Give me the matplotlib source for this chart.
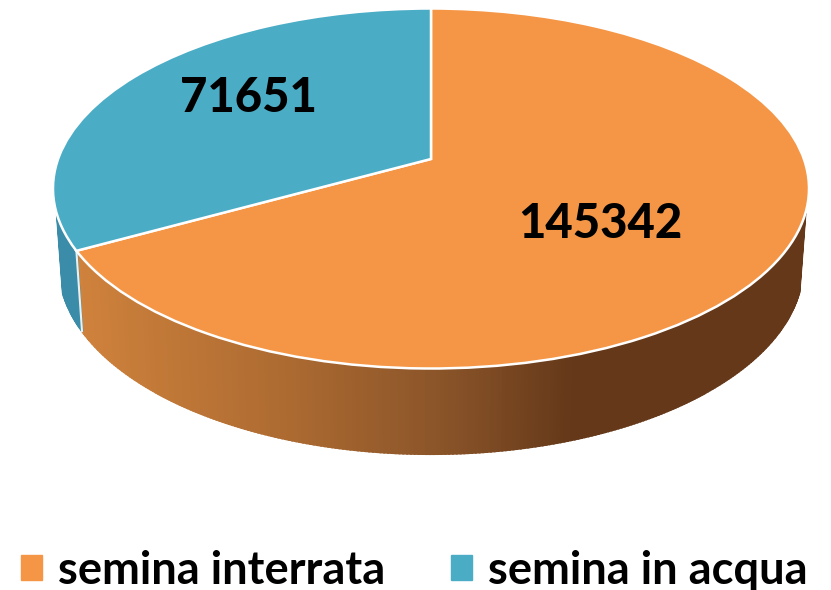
import numpy as np
import matplotlib
matplotlib.use("Agg")
import matplotlib.pyplot as plt
from matplotlib.patches import Patch
from matplotlib.colors import LinearSegmentedColormap
from matplotlib.transforms import Transform

# dati
categorie = ["semina interrata", "semina in acqua"]
valori = [145342, 71651]
colori = ["#f59646", "#4bacc6"]

plt.rcParams['font.family'] = ['Lato', 'DejaVu Sans']

P = 0.164  # prospettiva, sposta il centro della torta verso l'alto


def prospettiva(xy):
    x, y = xy[:, 0], xy[:, 1]
    w = 1 + P * y
    return np.column_stack((x * np.sqrt(1 - P ** 2) / w, (y + P) / w))


class Disco(Transform):
    # cerchio unitario -> ellisse superiore in pixel
    input_dims = output_dims = 2

    def transform_non_affine(self, xy):
        q = prospettiva(np.asarray(xy))
        return np.column_stack((431 + 378 * q[:, 0], 188.5 - 180 * q[:, 1]))


fig = plt.figure(figsize=(8.31, 5.90), dpi=100)
ax = fig.add_axes([0, 0, 1, 1])

spicchi, _ = ax.pie(valori, colors=colori, startangle=90, counterclock=False,
                    wedgeprops=dict(edgecolor="white", linewidth=1.8, zorder=5))
ax.set_aspect("auto")
ax.set_xlim(0, 831)
ax.set_ylim(590, 0)
ax.axis("off")

sfum_arancio = LinearSegmentedColormap.from_list(
    "ar", [(0, "#cf823c"), (0.29, "#ac6a31"), (0.5, "#8a5429"), (0.68, "#643819"), (1, "#643819")])
sfum_blu = LinearSegmentedColormap.from_list("bl", ["#3a8ca8", "#3d8fab"])
mappe = [sfum_arancio, sfum_blu]

# parete laterale, a strisce verticali sfumate
for sp, mappa in zip(spicchi, mappe):
    ang = np.radians(np.arange(sp.theta1, sp.theta2 + 0.25, 0.5))
    q = prospettiva(np.column_stack((np.cos(ang), np.sin(ang))))
    q = q[q[:, 1] < -0.136]
    x_su, y_su = 431 + 378 * q[:, 0], 188.5 - 180 * q[:, 1]
    x_giu, y_giu = 431 + 372 * q[:, 0], 266 - 188 * q[:, 1]
    for i in range(len(q) - 1):
        colore = mappa((x_su[i] - 76) / (809 - 76))
        ax.fill([x_su[i], x_su[i + 1], x_giu[i + 1], x_giu[i]],
                [y_su[i], y_su[i + 1], y_giu[i + 1], y_giu[i]],
                facecolor=colore, edgecolor=colore, lw=1.5, zorder=2)

# linea bianca fra le due pareti
a = np.radians(spicchi[0].theta1)
q = prospettiva(np.array([[np.cos(a), np.sin(a)]]))[0]
ax.plot([431 + 378 * q[0], 431 + 372 * q[0]], [188.5 - 180 * q[1], 266 - 188 * q[1]],
        color="#e8f0f2", lw=1.5, zorder=3)

# spicchi superiori
disco = Disco()
for sp in spicchi:
    sp.set_transform(disco + ax.transData)

ax.text(600, 224, str(valori[0]), fontsize=34, fontweight="black", ha="center", va="center", zorder=6)
ax.text(248, 98, str(valori[1]), fontsize=34, fontweight="black", ha="center", va="center", zorder=6)

maniglie = [Patch(color=c) for c in colori]
ax.legend(maniglie, categorie, ncol=2, frameon=False, loc="center",
          bbox_to_anchor=(0.4985, 0.033), prop=dict(size=32.6, weight="bold"),
          handlelength=0.46, handleheight=0.46, handletextpad=0.35, columnspacing=1.46,
          borderpad=0, borderaxespad=0)

fig.savefig("out.png", dpi=100)
